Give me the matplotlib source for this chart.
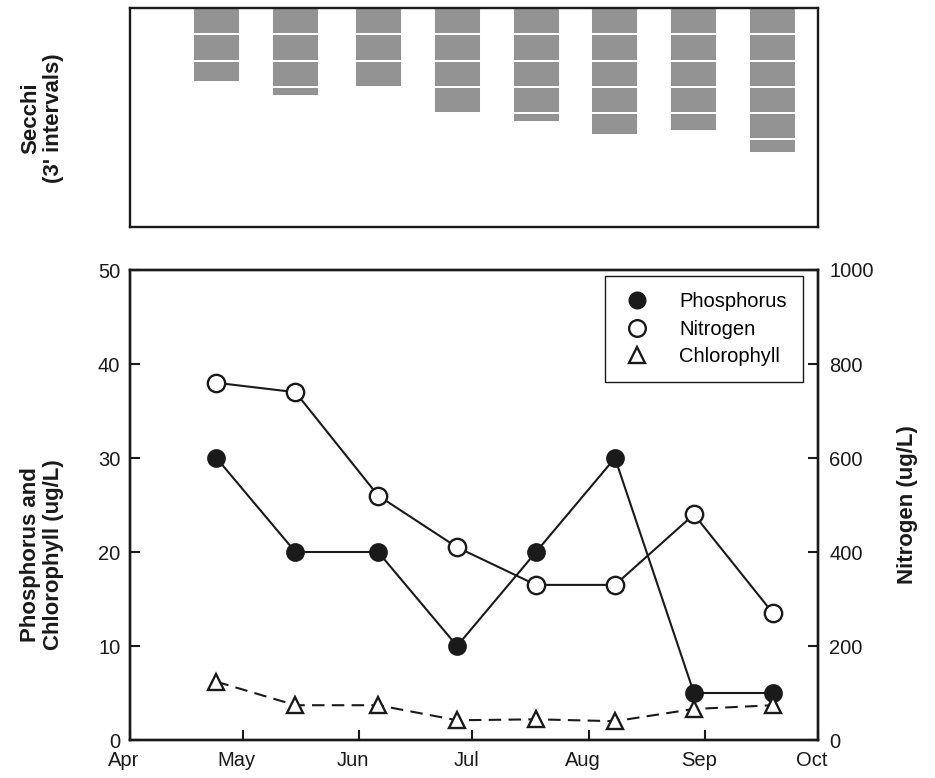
import numpy as np
import pandas as pd
import matplotlib
matplotlib.use('Agg')
import matplotlib.pyplot as plt
import matplotlib.dates as mdates
from matplotlib.lines import Line2D
from matplotlib.transforms import ScaledTranslation

plt.rcParams['font.family'] = ['Liberation Sans', 'DejaVu Sans']

# sampling dates (year is arbitrary)
sample_dates = ['2001-04-24', '2001-05-15', '2001-06-06', '2001-06-27',
                '2001-07-18', '2001-08-08', '2001-08-29', '2001-09-19']
secchi_ft = [8.5, 10, 9, 12, 13, 14.5, 14, 16.5]
phosphorus = [30, 20, 20, 10, 20, 30, 5, 5]
nitrogen = [760, 740, 520, 410, 330, 330, 480, 270]
chlorophyll = [6.2, 3.7, 3.7, 2.1, 2.2, 2.0, 3.3, 3.7]
month_labels = ['Apr', 'May', 'Jun', 'Jul', 'Aug', 'Sep', 'Oct']

x = mdates.date2num(pd.to_datetime(sample_dates))
x_start = mdates.date2num(pd.Timestamp('2001-04-01'))
x_end = mdates.date2num(pd.Timestamp('2001-10-01'))
month_ticks = mdates.date2num(pd.date_range('2001-04-01', '2001-10-01', freq='MS'))

W, H = 935, 778
fig = plt.figure(figsize=(W / 100, H / 100), dpi=100)
ax_top = fig.add_axes([130 / W, 1 - 227 / H, 688 / W, 219 / H])
ax = fig.add_axes([130 / W, 1 - 740 / H, 688 / W, 470 / H])
ax2 = ax.twinx()

gray = '#939393'
ink = '#1a1a1a'
lw_sp = 1.7

# --- Secchi panel: 3 ft blocks stacked downward
for xi, d in zip(x, secchi_ft):
    top = 0.0
    while top < d:
        h = min(3.0, d - top)
        ax_top.bar(xi, h, bottom=top, width=12.5, color=gray,
                   edgecolor='white', linewidth=1.4)
        top += 3.0
ax_top.set_xlim(x_start, x_end)
ax_top.set_ylim(25, 0)
ax_top.set_xticks([])
ax_top.set_yticks([])
for s in ax_top.spines.values():
    s.set_linewidth(lw_sp)
    s.set_color(ink)

# --- bottom panel
ax.plot(x, phosphorus, '-', color=ink, lw=1.5, marker='o', ms=12,
        mfc=ink, mec=ink, mew=1.5, zorder=3)
ax.plot(x, chlorophyll, '--', color=ink, lw=1.5, dashes=(6, 3.5),
        marker='^', ms=12, mfc='white', mec=ink, mew=1.7, zorder=3)
ax2.plot(x, nitrogen, '-', color=ink, lw=1.5, marker='o', ms=12.5,
         mfc='white', mec=ink, mew=1.7, zorder=3)

ax.set_xlim(x_start, x_end)
ax.set_ylim(0, 50)
ax2.set_ylim(0, 1000)
ax.set_yticks(np.arange(0, 51, 10))
ax2.set_yticks(np.arange(0, 1001, 200))
ax.set_xticks(month_ticks)
ax.set_xticklabels(month_labels)

fs = 14.5
ax.tick_params(axis='both', direction='in', length=7, width=1.5,
               labelsize=fs, colors=ink)
ax.tick_params(axis='x', pad=8)
ax.tick_params(axis='y', pad=7)
ax2.tick_params(axis='y', direction='in', length=7, width=1.5,
                labelsize=fs, pad=8, colors=ink)
for a in (ax, ax2):
    for s in a.spines.values():
        s.set_linewidth(lw_sp)
        s.set_color(ink)

# month labels sit slightly left of the tick in the original
shift = ScaledTranslation(-6 / 100, 0, fig.dpi_scale_trans)
for lbl in ax.get_xticklabels():
    lbl.set_transform(lbl.get_transform() + shift)

handles = [
    Line2D([], [], ls='none', marker='o', ms=12, mfc=ink, mec=ink),
    Line2D([], [], ls='none', marker='o', ms=12, mfc='white', mec=ink, mew=1.7),
    Line2D([], [], ls='none', marker='^', ms=12, mfc='white', mec=ink, mew=1.7),
]
leg = ax2.legend(handles, ['Phosphorus', 'Nitrogen', 'Chlorophyll'],
                 loc='upper right', bbox_to_anchor=(0.978, 0.987),
                 fontsize=fs, frameon=True, fancybox=False, framealpha=1,
                 edgecolor=ink, borderpad=0.8, labelspacing=0.42,
                 handletextpad=1.3, handlelength=1.6, borderaxespad=0)
leg.get_frame().set_linewidth(1.0)

# axis titles
lab_kw = dict(fontsize=16, fontweight='bold', rotation=90, ha='center',
              va='center', multialignment='center', color=ink,
              linespacing=1.1)
fig.text(42 / W, 1 - 118 / H, "Secchi\n(3' intervals)", **lab_kw)
fig.text(42 / W, 1 - 555 / H, 'Phosphorus and\nChlorophyll (ug/L)', **lab_kw)
fig.text(908 / W, 1 - 505 / H, 'Nitrogen (ug/L)', **lab_kw)

fig.savefig('out.png', dpi=100)
